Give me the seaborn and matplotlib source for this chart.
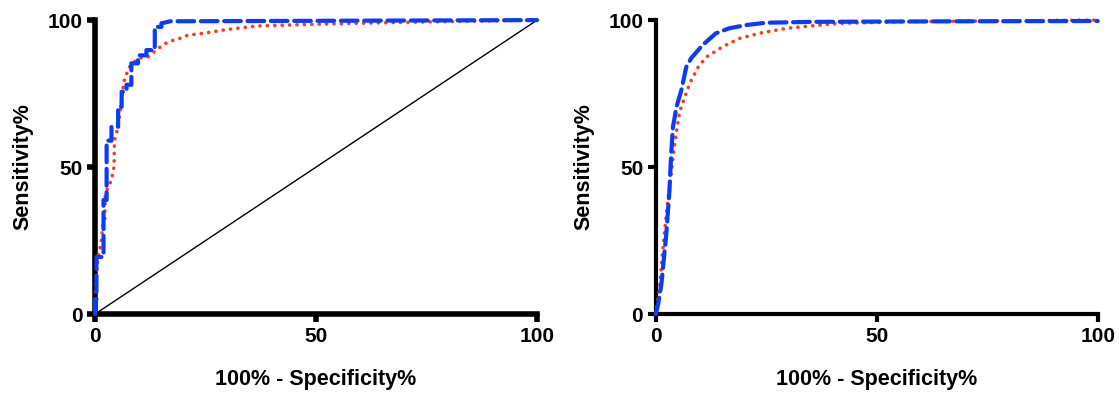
import numpy as np
import pandas as pd
import matplotlib
matplotlib.use("Agg")
import matplotlib.pyplot as plt
import seaborn as sns

sns.set_theme(style="white")
plt.rcParams['font.family'] = ['Liberation Sans', 'DejaVu Sans']
plt.rcParams['font.weight'] = 'bold'
plt.rcParams['text.color'] = 'black'
plt.rcParams['axes.labelcolor'] = 'black'
plt.rcParams['xtick.color'] = 'black'
plt.rcParams['ytick.color'] = 'black'

# ---- Left panel data ----
left_blue_x = [0, 0, 0.3, 0.3, 1.9, 1.9, 2.6, 2.6, 3.7, 3.7, 5.2, 5.2, 6.0, 6.0, 7.1, 7.1,
               8.2, 8.2, 9.7, 9.7, 11.6, 11.6, 13.5, 13.5, 15.0, 15.0, 17.0, 100]
left_blue_y = [0, 5, 5, 19.4, 19.4, 38.8, 38.8, 59, 59, 63.7, 63.7, 70.5, 70.5, 75.6, 75.6, 78,
               78, 85.3, 85.3, 88, 88, 89.8, 89.8, 97.7, 97.7, 98.9, 99.6, 100]
left_red_x = [0, 0.0, 0.3, 0.7, 1.4, 1.6, 1.8, 2.2, 2.3, 3.7, 4.3, 4.3, 4.4, 5.2, 6.0, 6.3, 6.7,
              7.8, 9.7, 12.0, 14.3, 16.5, 19.2, 21.0, 24.5, 29.8, 36.6, 50, 65, 80, 100]
left_red_y = [0, 4.8, 12.7, 19.5, 24.6, 28, 30.8, 32.5, 41, 45.6, 50.3, 53.5, 59.2, 63.7, 72.8,
              76.8, 80.2, 84.1, 87, 87.5, 90.4, 92.6, 93.8, 94.9, 95.5, 96.8, 98, 98.6, 99.1, 99.5, 100]
diag_x = [0, 100]
diag_y = [0, 100]

# ---- Right panel data ----
right_blue_x = [0, 0.5, 1.3, 2.4, 3.1, 3.5, 3.9, 4.7, 5.8, 6.9, 8.0, 10.6, 13.6, 16.6, 20.4,
                24.9, 35, 50, 70, 100]
right_blue_y = [0, 3, 10.4, 27.4, 42, 54.6, 63.7, 70.5, 76.2, 84, 87, 91.5, 95.5, 97.2, 98.3,
                99.1, 99.4, 99.5, 99.6, 99.7]
right_red_x = [0, 0.8, 1.6, 2.4, 3.5, 4.3, 5.0, 5.4, 6.6, 7.7, 9.6, 11.5, 15.2, 19, 24.3,
               29.6, 37, 41.6, 55, 75, 100]
right_red_y = [0, 8, 21.8, 34, 47.8, 58, 64.9, 68.8, 73.9, 78.5, 84, 87.5, 91, 93.8, 95.8,
               97.2, 98.3, 98.9, 99.4, 99.7, 100]

ticks = [0, 50, 100]
tick_labels = ["0", "50", "100"]
xlabel = "100% - Specificity%"
ylabel = "Sensitivity%"

BLUE = "#0A3CFF"
RED = "#FF3A1A"
DOT = (0, (0.05, 2.0))
DASH = (0, (4, 1.6))

fig = plt.figure(figsize=(11.19, 3.94), dpi=100)
ax1 = fig.add_axes([0.085, 0.203, 0.395, 0.746])
ax2 = fig.add_axes([0.586, 0.203, 0.395, 0.746])


def style(ax, spw):
    ax.set_xlim(0, 100)
    ax.set_ylim(0, 100)
    for s in ["top", "right"]:
        ax.spines[s].set_visible(False)
    for s in ["left", "bottom"]:
        ax.spines[s].set_linewidth(spw)
        ax.spines[s].set_color("black")
        ax.spines[s].set_capstyle("projecting")
    ax.set_xticks(ticks)
    ax.set_xticklabels(tick_labels)
    ax.set_yticks(ticks)
    ax.set_yticklabels(tick_labels)
    ax.tick_params(axis="both", direction="out", length=6, width=spw, color="black",
                   labelcolor="black", labelsize=15, pad=3, left=True, bottom=True)
    for lab in ax.get_xticklabels() + ax.get_yticklabels():
        lab.set_fontweight("bold")
    ax.set_xlabel(xlabel, fontsize=15.5, fontweight="bold", labelpad=17, color="black")
    ax.set_ylabel(ylabel, fontsize=15.5, fontweight="bold", labelpad=10, color="black")
    ax.grid(False)


style(ax1, 4)
style(ax2, 3)

# Left panel
sns.lineplot(x=diag_x, y=diag_y, ax=ax1, color="black", linewidth=1.0, sort=False,
             estimator=None, zorder=2)
sns.lineplot(x=left_red_x, y=left_red_y, ax=ax1, color=RED, linewidth=2.6, sort=False,
             estimator=None, zorder=3)
sns.lineplot(x=left_blue_x, y=left_blue_y, ax=ax1, color=BLUE, linewidth=3.0, sort=False,
             estimator=None, zorder=4)
lines = ax1.get_lines()
lines[1].set_linestyle(DOT)
lines[1].set_dash_capstyle("round")
lines[2].set_linestyle(DASH)
lines[2].set_dash_capstyle("round")
for ln in lines:
    ln.set_clip_on(False)

# Right panel
sns.lineplot(x=right_red_x, y=right_red_y, ax=ax2, color=RED, linewidth=2.6, sort=False,
             estimator=None, zorder=3)
sns.lineplot(x=right_blue_x, y=right_blue_y, ax=ax2, color=BLUE, linewidth=3.0, sort=False,
             estimator=None, zorder=4)
lines = ax2.get_lines()
lines[0].set_linestyle(DOT)
lines[0].set_dash_capstyle("round")
lines[1].set_linestyle(DASH)
lines[1].set_dash_capstyle("round")
for ln in lines:
    ln.set_clip_on(False)

fig.savefig("out.png", dpi=100)
